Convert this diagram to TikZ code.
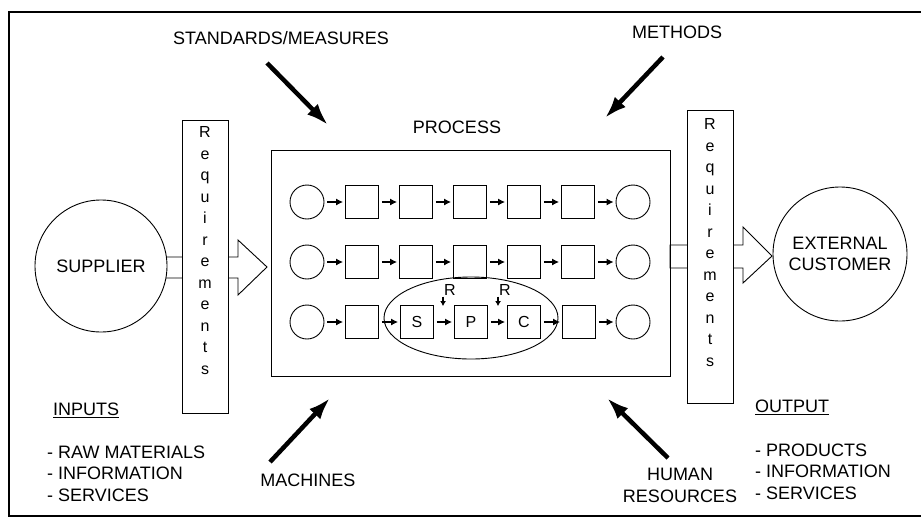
\documentclass[tikz,border=0pt]{standalone}
\usepackage{fontspec}
\setmainfont{Liberation Sans}
\usetikzlibrary{arrows.meta,shapes.geometric,backgrounds}

\tikzset{
  lbl/.style={font=\fontsize{18}{21.5}\selectfont, inner sep=0pt},
  small/.style={font=\fontsize{16}{18}\selectfont, inner sep=1pt},
  stage/.style={draw, line width=0.9pt, minimum size=33pt, inner sep=0pt,
    font=\fontsize{16}{18}\selectfont},
  endpt/.style={draw, circle, line width=0.9pt, minimum size=34pt, inner sep=0pt},
  flow/.style={-{Latex[length=7pt,width=7pt]}, line width=1.1pt,
    shorten <=3pt, shorten >=2pt},
  push/.style={-{Latex[length=22pt,width=15pt]}, line width=4.5pt},
  reqbox/.style={draw, fill=white, line width=0.9pt, minimum width=46pt,
    minimum height=293pt, inner sep=0pt},
  reqtext/.style={anchor=north, align=center, inner sep=0pt,
    font=\fontsize{16}{21.5}\selectfont},
  hollow/.style={draw, fill=white, line width=0.9pt, line join=miter},
}

\begin{document}
\begin{tikzpicture}[x=1pt, y=-1pt]
  \useasboundingbox (0,0) rectangle (921,520);

  %===== frame =====%
  \draw[line width=1.2pt] (930,12) -- (9,12) -- (9,516) -- (930,516);

  %===== supplier and customer =====%
  \node[draw, circle, fill=white, line width=0.9pt, minimum size=132pt, lbl]
    (supplier) at (101,266) {SUPPLIER};
  \node[draw, circle, fill=white, line width=0.9pt, minimum size=134pt, lbl,
    align=center] (customer) at (840,254) {EXTERNAL\\CUSTOMER};

  % requirements boxes
  \node[reqbox] (reqL) at (205,266.5) {};
  \node[reqtext, yshift=-7pt] (reqLtext) at (reqL.north)
    {R\\e\\q\\u\\i\\r\\e\\m\\e\\n\\t\\s};
  \node[reqbox] (reqR) at (710,256.5) {};
  \node[reqtext, yshift=-9pt] (reqRtext) at (reqR.north)
    {R\\e\\q\\u\\i\\r\\e\\m\\e\\n\\t\\s};

  % hollow arrows behind the boxes
  \begin{scope}[on background layer]
    \draw[hollow] (150,257) -- (238,257) -- (238,240) -- (267,267)
      -- (238,295) -- (238,278) -- (150,278) -- cycle;
    \draw[hollow] (670,245) -- (743,245) -- (743,227) -- (772,256)
      -- (743,283) -- (743,268) -- (670,268) -- cycle;
  \end{scope}

  %===== process =====%
  \node[lbl] (proctitle) at (457,127) {PROCESS};
  \node[draw, line width=0.9pt, minimum width=399pt, minimum height=226pt]
    (proc) at (470.5,263) {};

  % rows 1 and 2
  \foreach \r/\y in {1/202,2/262} {
    \node[endpt] (q\r0) at (307,\y) {};
    \foreach \c/\x in {1/362,2/416,3/470,4/524,5/578}
      \node[stage] (q\r\c) at (\x,\y) {};
    \node[endpt] (q\r6) at (633,\y) {};
    \foreach \c [count=\n] in {0,...,5}
      \draw[flow] (q\r\c) -- (q\r\n);
  }

  % row 3 with supplier/process/customer loop
  \node[endpt] (q30) at (307,322) {};
  \node[stage] (q31) at (362,322) {};
  \node[stage] (q32) at (417,322) {S};
  \node[stage] (q33) at (471,322) {P};
  \node[stage] (q34) at (524,322) {C};
  \node[stage] (q35) at (579,322) {};
  \node[endpt] (q36) at (633,322) {};
  \foreach \c [count=\n] in {0,...,5}
    \draw[flow] (q3\c) -- (q3\n);
  \node[draw, ellipse, line width=0.9pt, minimum width=174pt,
    minimum height=82pt] (spc) at (471,318) {};

  % requirements feeding P and C
  \node[small] (rP) at (450,290) {R};
  \node[small] (rC) at (505,290) {R};
  \draw[flow, -{Latex[length=5pt,width=6pt]}, shorten <=0pt, shorten >=-1pt]
    (rP.south west) -- (rP.south west |- q33.north);
  \draw[flow, -{Latex[length=5pt,width=6pt]}, shorten <=0pt, shorten >=-1pt]
    (rC.south west) -- (rC.south west |- q34.north);

  %===== influences =====%
  \node[lbl] (standards) at (281,38) {STANDARDS/MEASURES};
  \coordinate (stdA) at (267,63);
  \coordinate (stdB) at (328,125);
  \draw[push] (stdA) -- (stdB);

  \node[lbl] (methods) at (677,32) {METHODS};
  \coordinate (metA) at (663,57);
  \coordinate (metB) at (605,118);
  \draw[push] (metA) -- (metB);

  \node[lbl] (machines) at (308,480) {MACHINES};
  \coordinate (macA) at (270,462);
  \coordinate (macB) at (330,398);
  \draw[push] (macA) -- (macB);

  \node[lbl, align=center] (human) at (680,485.5) {HUMAN\\RESOURCES};
  \coordinate (humA) at (668,458);
  \coordinate (humB) at (607,398);
  \draw[push] (humA) -- (humB);

  %===== inputs / output lists =====%
  \node[lbl, anchor=west] (inputs) at (53,410) {\underline{INPUTS}};
  \node[lbl, anchor=west, align=left] (inlist) at (47,473.5)
    {- RAW MATERIALS\\- INFORMATION\\- SERVICES};
  \node[lbl, anchor=west] (output) at (755,407) {\underline{OUTPUT}};
  \node[lbl, anchor=west, align=left] (outlist) at (755,471.5)
    {- PRODUCTS\\- INFORMATION\\- SERVICES};
\end{tikzpicture}
\end{document}
